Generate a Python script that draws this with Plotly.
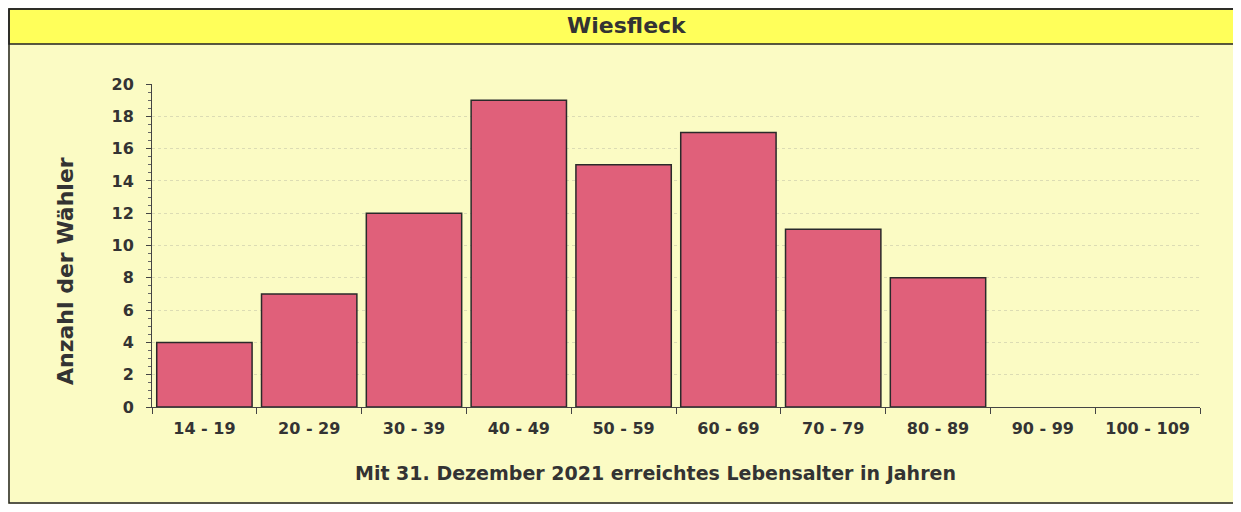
import plotly.graph_objects as go

# age groups and number of voters
age_groups = ['14 - 19', '20 - 29', '30 - 39', '40 - 49', '50 - 59',
              '60 - 69', '70 - 79', '80 - 89', '90 - 99', '100 - 109']
voters = [4, 7, 12, 19, 15, 17, 11, 8, 0, 0]
y_ticks = [0, 2, 4, 6, 8, 10, 12, 14, 16, 18, 20]

bg = '#FBFBC4'
bar_col = '#E0607A'
txt = '#333333'
fnt = 'DejaVu Sans, Arial, sans-serif'

# figure sits at (8, 8) in the page because of the body margin
W, H = 1230, 496
L, R, T, B = 144, 38, 76, 97
pw, ph = W - L - R, H - T - B


def px(x):
    return (x - L) / pw


def py(y):
    return 1 - (y - T) / ph


fig = go.Figure()
fig.add_trace(go.Bar(x=age_groups, y=voters,
                     marker=dict(color=bar_col,
                                 line=dict(color='#2a2a2a',
                                           width=[1.5 if v > 0 else 0 for v in voters])),
                     width=0.91))

fig.update_layout(
    width=W, height=H,
    paper_bgcolor=bg, plot_bgcolor=bg,
    margin=dict(l=L, r=R, t=T, b=B),
    showlegend=False,
    font=dict(family=fnt, color=txt),
    xaxis=dict(
        type='category',
        tickson='boundaries',
        ticks='outside', ticklen=6, tickcolor='#444', tickwidth=1,
        showline=True, linecolor='#444', linewidth=1,
        showgrid=False,
        ticklabelstandoff=7,
        tickfont=dict(size=16, family=fnt, color=txt, weight='bold'),
        range=[-0.5, 9.5]),
    yaxis=dict(
        range=[0, 20],
        tickvals=y_ticks,
        ticks='outside', ticklen=5, tickcolor='#444',
        showline=True, linecolor='#444', linewidth=1,
        showgrid=True, gridcolor='#DCDCB4', griddash='dot', gridwidth=1,
        zeroline=False,
        minor=dict(dtick=0.5, ticks='outside', ticklen=3, tickcolor='#666', showgrid=False),
        ticklabelstandoff=9,
        tickfont=dict(size=16, family=fnt, color=txt, weight='bold')),
    shapes=[
        dict(type='rect', xref='paper', yref='paper',
             x0=px(1), x1=px(W - 1), y0=py(36), y1=py(1),
             fillcolor='#FFFF5A', line=dict(color='#222', width=1.5), layer='below'),
        dict(type='rect', xref='paper', yref='paper',
             x0=px(1), x1=px(W - 1), y0=py(H - 1), y1=py(1),
             fillcolor='rgba(0,0,0,0)', line=dict(color='#222', width=1.5)),
    ],
    annotations=[
        dict(text='<b>Wiesfleck</b>', xref='paper', yref='paper',
             x=px(619), y=py(18), showarrow=False,
             font=dict(size=22, family=fnt, color=txt),
             xanchor='center', yanchor='middle'),
        dict(text='<b>Mit 31. Dezember 2021 erreichtes Lebensalter in Jahren</b>',
             xref='paper', yref='paper', x=px(647), y=py(465), showarrow=False,
             font=dict(size=19, family=fnt, color=txt),
             xanchor='center', yanchor='middle'),
        dict(text='<b>Anzahl der Wähler</b>', xref='paper', yref='paper',
             x=px(57), y=py(263), showarrow=False, textangle=-90,
             font=dict(size=22, family=fnt, color=txt),
             xanchor='center', yanchor='middle'),
    ],
)

fig.write_html('out.html')
